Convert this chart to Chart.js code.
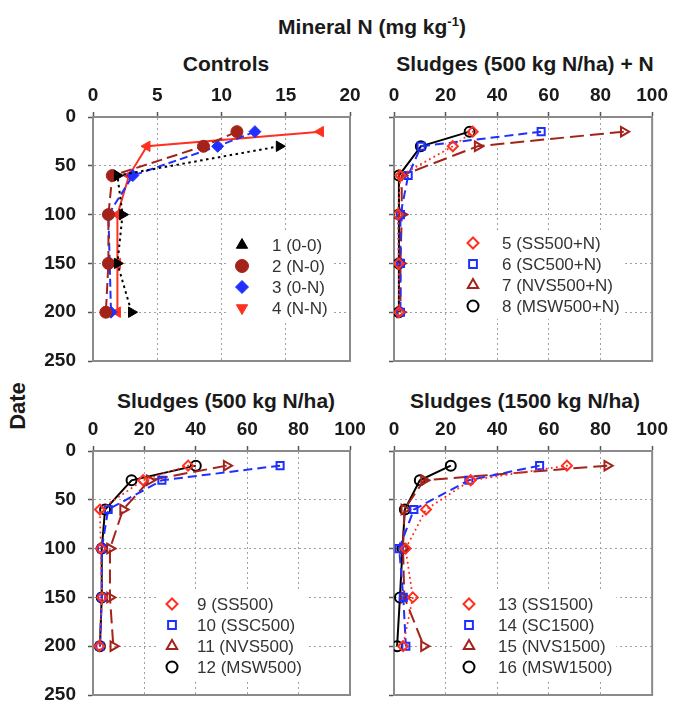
<!DOCTYPE html>
<html><head><meta charset="utf-8">
<script src="https://cdn.jsdelivr.net/npm/chart.js@4.4.1/dist/chart.umd.min.js"></script>
<style>
body{margin:0;background:#fff;width:673px;height:705px;position:relative;overflow:hidden;font-family:"Liberation Sans",Arial,sans-serif;}
.t{position:absolute;font-weight:bold;color:#1a1a1a;white-space:nowrap;transform:translate(-50%,-50%);line-height:1;}
canvas{position:absolute;}
</style></head><body>
<div class="t" style="left:372px;top:26px;font-size:21px">Mineral N (mg kg<span style="font-size:13px;position:relative;top:-8px">-1</span>)</div>
<div class="t" style="left:226px;top:63px;font-size:21px">Controls</div>
<div class="t" style="left:525px;top:63px;font-size:21px">Sludges (500 kg N/ha) + N</div>
<div class="t" style="left:226px;top:400px;font-size:21px">Sludges (500 kg N/ha)</div>
<div class="t" style="left:525px;top:400px;font-size:21px">Sludges (1500 kg N/ha)</div>
<div class="t" style="left:18px;top:406px;font-size:22px;transform:translate(-50%,-50%) rotate(-90deg)">Date</div>
<canvas id="c1" width="372" height="315" style="left:0;top:70px"></canvas>
<canvas id="c2" width="311" height="315" style="left:362px;top:70px"></canvas>
<canvas id="c3" width="372" height="315" style="left:0;top:404px"></canvas>
<canvas id="c4" width="311" height="315" style="left:362px;top:404px"></canvas>
<script>
// ---- data ----
const dates = [15, 30, 60, 100, 150, 200];
const dateTicks = [0, 50, 100, 150, 200, 250];

// Controls (mg/kg)
const c1_00 = [null, 14.5, 1.9, 2.3, 1.9, 3.0];
const c2_N0 = [11.2, 8.6, 1.5, 1.2, 1.2, 1.0];
const c3_0N = [12.6, 9.7, 3.1, 1.2, 1.3, 1.4];
const c4_NN = [17.7, 4.2, 2.8, 1.9, 1.9, 1.9];

// Sludges 500 + N
const s5_SS500N  = [30.5, 22.8, 2.5, 1.5, 1.8, 2.0];
const s6_SC500N  = [57.0, 10.5, 5.5, 2.5, 2.5, 2.5];
const s7_NVS500N = [89.0, 32.4, 3.0, 3.0, 2.5, 2.5];
const s8_MSW500N = [29.3, 10.4, 1.9, 1.9, 1.9, 1.9];

// Sludges 500
const s9_SS500   = [37.0, 19.5, 2.7, 3.0, 3.5, 2.5];
const s10_SSC500 = [72.8, 26.8, 5.9, 3.4, 3.4, 2.7];
const s11_NVS500 = [52.0, 22.0, 11.7, 6.6, 6.6, 7.9];
const s12_MSW500 = [40.0, 15.0, 4.7, 3.4, 3.4, 2.7];

// Sludges 1500
const s13_SS1500  = [67.0, 29.7, 12.4, 4.5, 7.3, 3.5];
const s14_SC1500  = [56.4, 29.0, 7.7, 2.0, 3.6, 4.6];
const s15_NVS1500 = [82.6, 11.6, 4.0, 3.5, 4.0, 11.6];
const s16_MSW1500 = [22.0, 10.0, 4.2, 3.3, 2.3, 1.2];

// ---- styles ----
const FAM = '"Liberation Sans", Arial, sans-serif';
const BLACK = '#000000', DRED = '#A3231B', BLUE = '#1F2FFF', RED = '#FF3020';
const ST = {
  blackDotTri: {color: BLACK, dash: [2.5, 3.5], ps: 'triangle', rot: 90, lrot: 0, filled: true, r: 6, cap: 'butt'},
  dredCircle:  {color: DRED, dash: [11, 5], ps: 'circle', rot: 0, lrot: 0, filled: true, r: 6},
  blueDiamond: {color: BLUE, dash: [8, 4], ps: 'rectRot', rot: 0, lrot: 0, filled: true, r: 6},
  redTriDown:  {color: RED, dash: [], ps: 'triangle', rot: 270, lrot: 180, filled: true, r: 6},
  redDiamond:  {color: RED, dash: [0.1, 5], ps: 'rectRot', rot: 0, lrot: 0, filled: false, r: 5, cap: 'round'},
  blueSquare:  {color: BLUE, dash: [9, 5], ps: 'rect', rot: 0, lrot: 0, filled: false, r: 5},
  dredTri:     {color: DRED, dash: [14, 6], ps: 'triangle', rot: 90, lrot: 0, filled: false, r: 5.5},
  blackCircle: {color: BLACK, dash: [], ps: 'circle', rot: 0, lrot: 0, filled: false, r: 5},
};

function pts(vals) {
  return dates.map((d, i) => vals[i] == null ? null : {x: vals[i], y: d}).filter(p => p);
}
function ds(label, vals, s) {
  const fill = s.filled ? s.color : 'rgba(0,0,0,0)';
  return {
    label, data: pts(vals), showLine: true, tension: 0,
    borderColor: s.color, backgroundColor: fill, borderWidth: 2, borderDash: s.dash,
    borderCapStyle: s.cap || 'butt',
    pointStyle: s.ps, pointRotation: s.rot, pointRadius: s.r,
    pointBorderWidth: s.filled ? 1 : 2, pointBorderColor: s.color, pointBackgroundColor: fill,
    legendRotation: s.lrot,
  };
}

const decoPlugin = {
  id: 'deco',
  beforeDatasetsDraw(chart, args, opts) {
    const {ctx, chartArea: a} = chart;
    ctx.save();
    ctx.strokeStyle = '#8a8a8a'; ctx.lineWidth = 2; ctx.setLineDash([]);
    ctx.beginPath();
    ctx.moveTo(a.right, a.top); ctx.lineTo(a.right, a.bottom); ctx.lineTo(a.left, a.bottom);
    ctx.stroke();
    const L = opts.legend;
    ctx.font = '17px ' + FAM;
    const dss = chart.data.datasets;
    let maxW = 0; dss.forEach(d => maxW = Math.max(maxW, ctx.measureText(d.label).width));
    const x0 = a.left + L.mx, y0 = a.top + L.my;
    ctx.fillStyle = '#ffffff';
    ctx.fillRect(x0 - 14, y0 - 13, (L.tx - L.mx) + maxW + 18, (dss.length - 1) * L.dy + 26);
    dss.forEach((d, i) => {
      const y = y0 + i * L.dy;
      ctx.save();
      ctx.setLineDash([]);
      ctx.fillStyle = d.pointBackgroundColor; ctx.strokeStyle = d.pointBorderColor;
      ctx.lineWidth = d.pointBorderWidth;
      Chart.helpers.drawPoint(ctx, {pointStyle: d.pointStyle, rotation: d.legendRotation,
        radius: d.pointRadius + 0.5, borderWidth: d.pointBorderWidth}, x0, y);
      ctx.restore();
      ctx.fillStyle = '#333333'; ctx.textBaseline = 'middle'; ctx.textAlign = 'left';
      ctx.fillText(d.label, a.left + L.tx, y + 1);
    });
    ctx.restore();
  }
};

function axisCommon() {
  return {
    grid: {color: '#a0a0a0', lineWidth: 1, tickLength: 5, tickColor: '#555555', tickWidth: 1.5},
    border: {color: '#8a8a8a', width: 2, dash: [2, 3]},
  };
}

function makePanel(id, xMax, xStep, datasets, showY, leftW, padRight, legend) {
  const tickFont = {size: 19, weight: 'bold', family: FAM};
  new Chart(document.getElementById(id), {
    type: 'scatter',
    data: {datasets},
    options: {
      responsive: false, animation: false, devicePixelRatio: 1,
      layout: {padding: {left: 0, right: padRight, top: 0, bottom: 24}},
      plugins: {legend: {display: false}, tooltip: {enabled: false}, deco: {legend}},
      scales: {
        x: Object.assign(axisCommon(), {
          type: 'linear', position: 'top', min: 0, max: xMax,
          ticks: {stepSize: xStep, font: tickFont, color: '#1a1a1a', padding: 5, maxRotation: 0},
          afterFit(s) { s.height = 47; }
        }),
        y: Object.assign(axisCommon(), {
          type: 'linear', position: 'left', reverse: true, min: dateTicks[0], max: dateTicks[dateTicks.length - 1],
          afterBuildTicks(s) { s.ticks = dateTicks.map(v => ({value: v})); },
          ticks: {display: showY, font: tickFont, color: '#1a1a1a', padding: 12},
          afterFit(s) { s.width = leftW; }
        })
      }
    },
    plugins: [decoPlugin]
  });
}

makePanel('c1', 20, 5, [
  ds('1 (0-0)', c1_00, ST.blackDotTri),
  ds('2 (N-0)', c2_N0, ST.dredCircle),
  ds('3 (0-N)', c3_0N, ST.blueDiamond),
  ds('4 (N-N)', c4_NN, ST.redTriDown),
], true, 93, 22, {mx: 149, tx: 179, my: 128, dy: 21});

makePanel('c2', 100, 20, [
  ds('5 (SS500+N)', s5_SS500N, ST.redDiamond),
  ds('6 (SC500+N)', s6_SC500N, ST.blueSquare),
  ds('7 (NVS500+N)', s7_NVS500N, ST.dredTri),
  ds('8 (MSW500+N)', s8_MSW500N, ST.blackCircle),
], false, 32, 20, {mx: 79, tx: 108, my: 126, dy: 21});

makePanel('c3', 100, 20, [
  ds('9 (SS500)', s9_SS500, ST.redDiamond),
  ds('10 (SSC500)', s10_SSC500, ST.blueSquare),
  ds('11 (NVS500)', s11_NVS500, ST.dredTri),
  ds('12 (MSW500)', s12_MSW500, ST.blackCircle),
], true, 93, 22, {mx: 79, tx: 104, my: 153, dy: 21});

makePanel('c4', 100, 20, [
  ds('13 (SS1500)', s13_SS1500, ST.redDiamond),
  ds('14 (SC1500)', s14_SC1500, ST.blueSquare),
  ds('15 (NVS1500)', s15_NVS1500, ST.dredTri),
  ds('16 (MSW1500)', s16_MSW1500, ST.blackCircle),
], false, 32, 20, {mx: 75, tx: 104, my: 153, dy: 21});
</script>
</body></html>
